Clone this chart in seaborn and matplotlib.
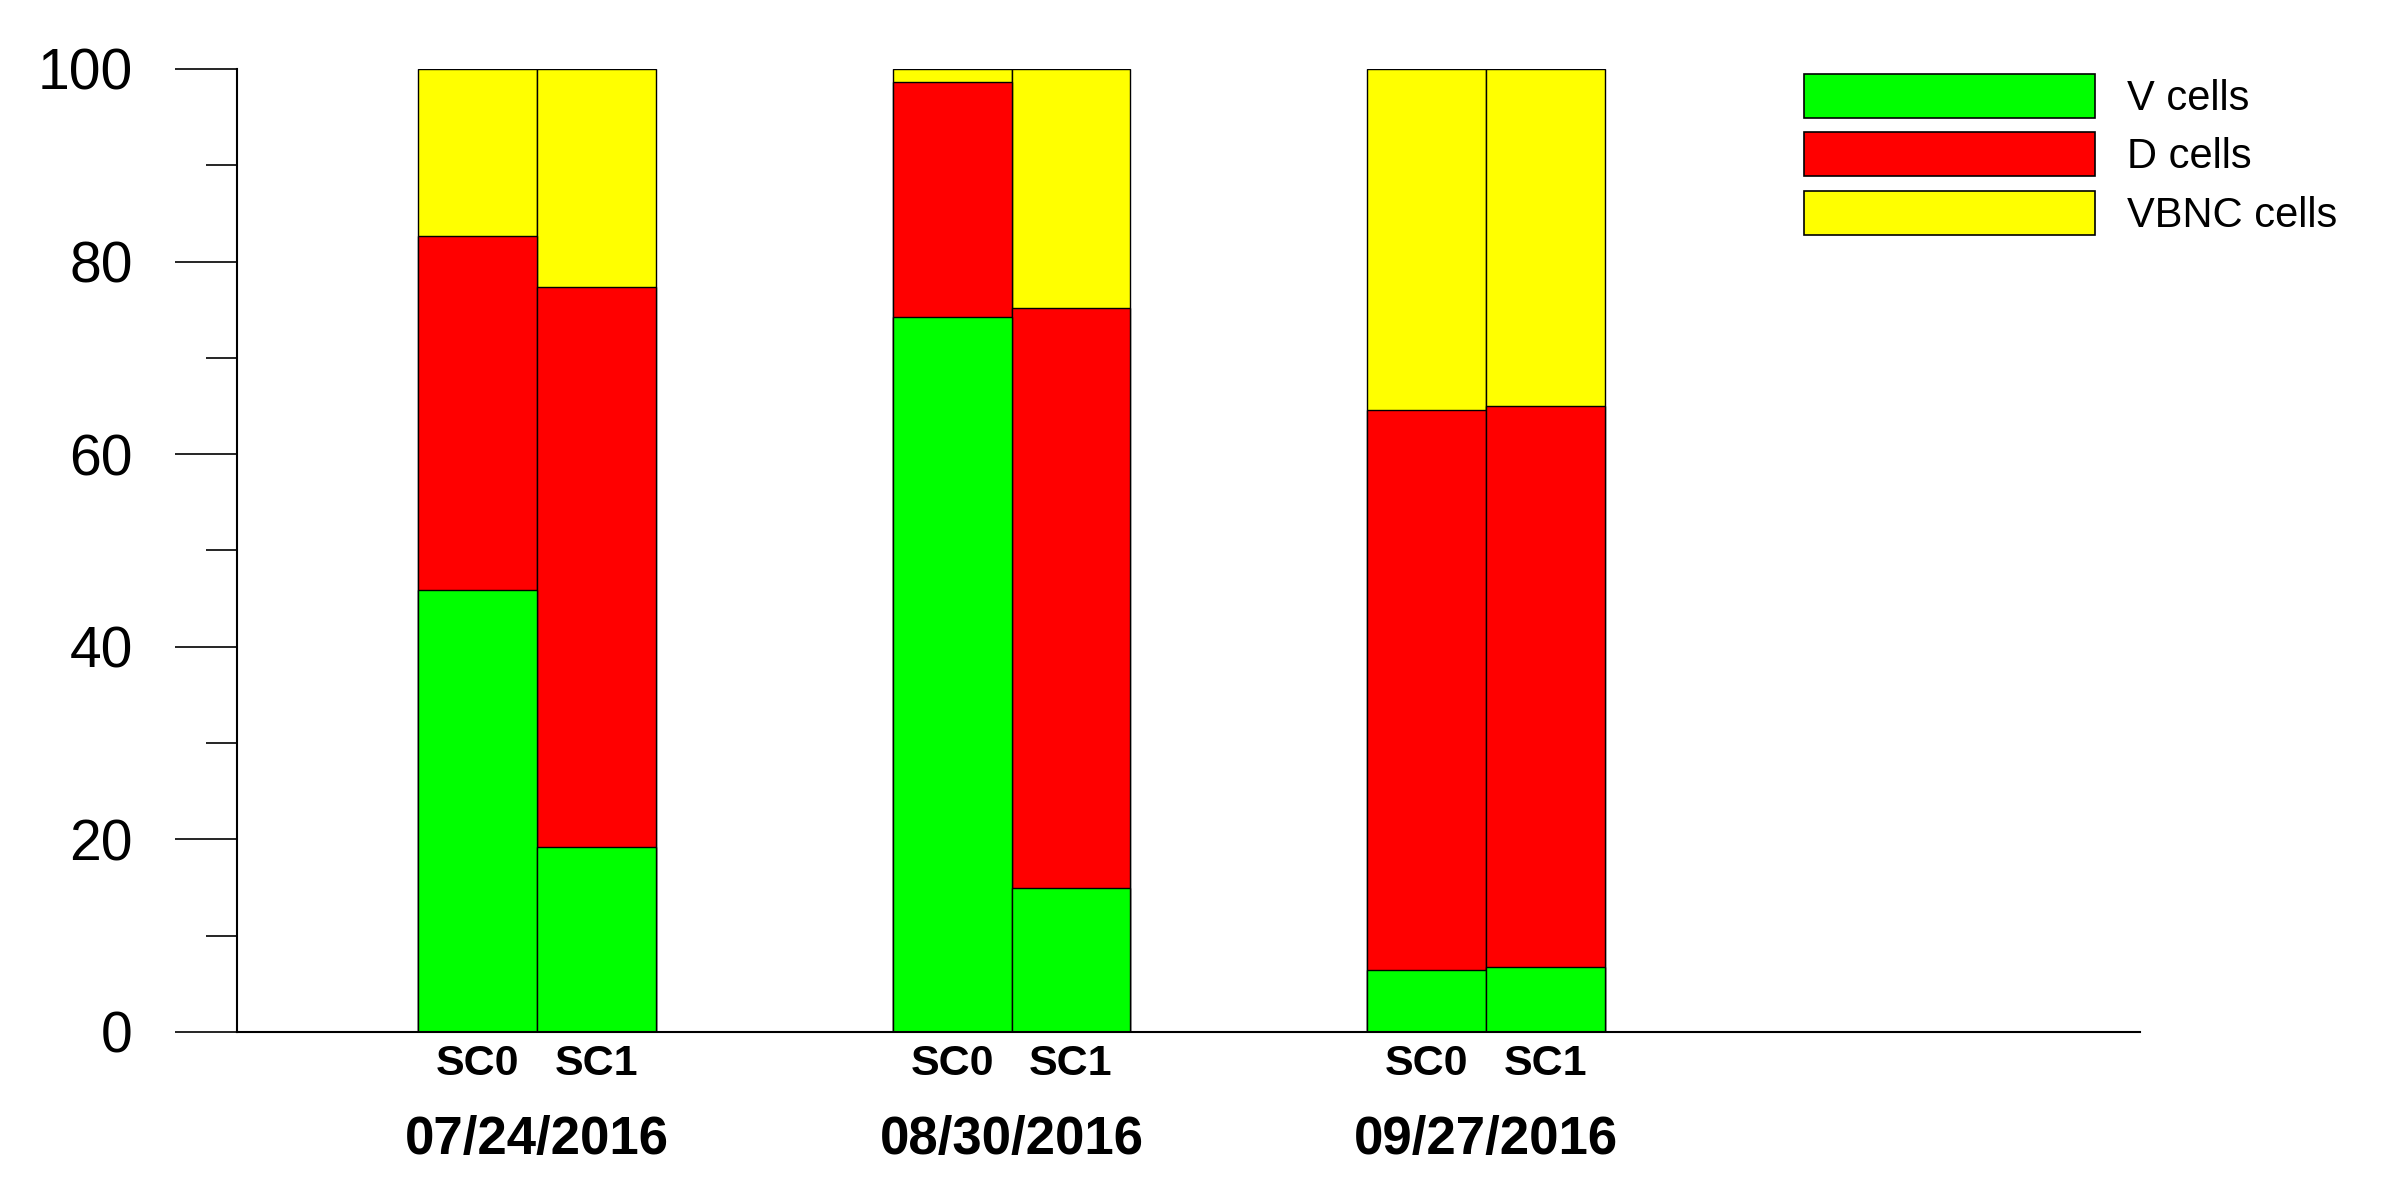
import pandas as pd
import matplotlib.pyplot as plt
import seaborn as sns
from matplotlib.patches import Patch
from matplotlib.ticker import MultipleLocator

# values (percent of cells)
dates = ["07/24/2016", "08/30/2016", "09/27/2016"]
samples = ["SC0", "SC1"]
v_cells = [45.9, 19.2, 74.2, 14.9, 6.4, 6.7]
d_cells = [36.8, 58.2, 24.4, 60.3, 58.2, 58.3]
vbnc_cells = [17.3, 22.6, 1.4, 24.8, 35.4, 35.0]

series_names = ["V cells", "D cells", "VBNC cells"]
colors = ["#00ff00", "#ff0000", "#ffff00"]

df = pd.DataFrame({
    "date": [d for d in dates for _ in samples],
    "sample": samples * len(dates),
    "V": v_cells,
    "D": d_cells,
    "VBNC": vbnc_cells,
})
# stacked heights
df["VD"] = df["V"] + df["D"]
df["total"] = df["VD"] + df["VBNC"]

sns.set_style("ticks")
plt.rcParams["font.family"] = ["Liberation Sans", "DejaVu Sans"]
plt.rcParams["text.color"] = "black"
plt.rcParams["xtick.color"] = "black"
plt.rcParams["ytick.color"] = "black"
plt.rcParams["axes.edgecolor"] = "black"

fig = plt.figure(figsize=(24.06, 11.79), dpi=100)
ax = fig.add_axes([0.0985, 0.1247, 0.791, 0.8168])

# draw tallest stack first, then overlay lower segments
for col, color in [("total", colors[2]), ("VD", colors[1]), ("V", colors[0])]:
    sns.barplot(data=df, x="date", y=col, hue="sample", hue_order=samples,
                palette=[color] * len(samples), width=0.5, saturation=1,
                errorbar=None, edgecolor="black", linewidth=1, legend=False, ax=ax)

ax.set_ylim(0, 100)
ax.set_xlim(-0.632, 3.378)
ax.set_xlabel("")
ax.set_ylabel("")

# y axis ticks
ax.set_yticks(range(0, 101, 20))
ax.yaxis.set_minor_locator(MultipleLocator(10))
ax.tick_params(axis="y", which="major", length=45, width=1.2, pad=30, labelsize=41)
ax.tick_params(axis="y", which="minor", length=22, width=1.2)

# sample labels under each bar, date labels under each group
bar_pos = [g + off for g in range(len(dates)) for off in (-0.125, 0.125)]
ax.set_xticks(bar_pos)
ax.set_xticklabels(samples * len(dates), fontweight="bold", fontsize=31)
ax.set_xticks(range(len(dates)), minor=True)
ax.set_xticklabels(dates, minor=True, fontweight="bold", fontsize=38)
ax.tick_params(axis="x", which="major", length=0, pad=9)
ax.tick_params(axis="x", which="minor", length=0, pad=60)

for s in ["top", "right"]:
    ax.spines[s].set_visible(False)
ax.spines["left"].set_linewidth(1.5)
ax.spines["bottom"].set_linewidth(1.5)

handles = [Patch(facecolor=c, edgecolor="black", linewidth=1.2) for c in colors]
fig.legend(handles, series_names, loc="upper left", bbox_to_anchor=(0.741, 0.955),
           frameon=False, fontsize=30, borderpad=0, handlelength=7.0,
           handleheight=1.25, handletextpad=0.75, labelspacing=0.32)

fig.savefig("out.png", dpi=100)
